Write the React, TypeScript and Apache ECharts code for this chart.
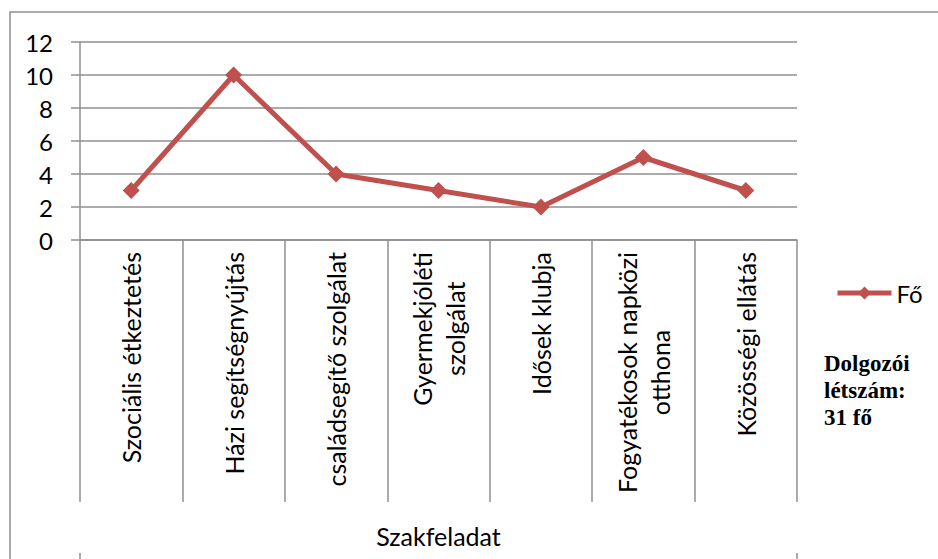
import React, { useEffect, useRef } from "react";
import * as echarts from "echarts";

const categories = [
  "Szociális étkeztetés",
  "Házi segítségnyújtás",
  "családsegítő szolgálat",
  "Gyermekjóléti\nszolgálat",
  "Idősek klubja",
  "Fogyatékosok napközi\notthona",
  "Közösségi ellátás",
];
const values = [3, 10, 4, 3, 2, 5, 3];
const seriesName = "Fő";
const groupLabel = "Szakfeladat";
const noteLines = ["Dolgozói", "létszám:", "31 fő"];

const FONT = "Lato, 'Open Sans', sans-serif";
const GRAY = "#8f8f8f";
const RED = "#C0504D";

export default function App() {
  const ref = useRef<HTMLDivElement>(null);
  useEffect(() => {
    const chart = echarts.init(ref.current!, null, { renderer: "svg" });
    chart.setOption({
      animation: false,
      backgroundColor: "#ffffff",
      textStyle: { fontFamily: FONT, color: "#000" },
      graphic: [
        {
          type: "rect",
          shape: { x: 10, y: 12, width: 940, height: 560 },
          style: { fill: "none", stroke: GRAY, lineWidth: 1.5 },
          silent: true,
        },
        {
          type: "text",
          left: 824,
          top: 350,
          style: {
            text: noteLines.join("\n"),
            font: "bold 23px 'Liberation Serif', 'Times New Roman', serif",
            fill: "#000",
            lineHeight: 27,
          },
        },
      ],
      legend: {
        data: [seriesName],
        left: 830,
        top: 276,
        itemWidth: 54,
        itemHeight: 16,
        itemGap: 5,
        lineStyle: { width: 5 },
        textStyle: { fontSize: 24, fontFamily: FONT, color: "#000" },
      },
      grid: [
        { left: 80, top: 42, width: 717, height: 198 },
        { left: 80, top: 240, width: 717, height: 313 },
      ],
      xAxis: [
        {
          type: "category",
          gridIndex: 0,
          data: categories,
          boundaryGap: true,
          axisLine: { show: true, lineStyle: { color: GRAY, width: 1.5 } },
          axisTick: {
            show: true,
            interval: 0,
            length: 262,
            lineStyle: { color: GRAY, width: 1.5 },
          },
          axisLabel: {
            interval: 0,
            rotate: 90,
            margin: 12,
            formatter: (v: string) =>
              v
                .split("\n")
                .map((l) => `{c|${l}}`)
                .join("\n"),
            rich: {
              c: {
                align: "center",
                fontSize: 25,
                fontFamily: FONT,
                color: "#000",
                lineHeight: 33,
              },
            },
          },
          name: groupLabel,
          nameLocation: "middle",
          nameGap: 283,
          nameTextStyle: { fontSize: 25, fontFamily: FONT, color: "#000" },
        },
        {
          type: "category",
          gridIndex: 1,
          position: "top",
          data: [""],
          boundaryGap: true,
          axisLine: { show: false },
          axisTick: {
            show: true,
            inside: true,
            length: 313,
            lineStyle: { color: GRAY, width: 1.5 },
          },
          axisLabel: { show: false },
        },
      ],
      yAxis: [
        {
          type: "value",
          gridIndex: 0,
          min: 0,
          max: 12,
          interval: 2,
          axisLine: { show: true, lineStyle: { color: GRAY, width: 1.5 } },
          axisTick: { show: true, length: 9, lineStyle: { color: GRAY, width: 1.5 } },
          axisLabel: { margin: 27, fontSize: 24, fontFamily: FONT, color: "#000" },
          splitLine: { show: true, lineStyle: { color: GRAY, width: 1.5 } },
        },
        {
          type: "value",
          gridIndex: 1,
          show: false,
          splitLine: { show: false },
        },
      ],
      series: [
        {
          name: seriesName,
          type: "line",
          xAxisIndex: 0,
          yAxisIndex: 0,
          data: values,
          symbol: "diamond",
          symbolSize: 17,
          lineStyle: { color: RED, width: 5 },
          itemStyle: { color: RED },
        },
      ],
    });
    return () => chart.dispose();
  }, []);
  return (
    <div
      ref={ref}
      style={{ position: "absolute", left: 0, top: 0, width: 938, height: 559 }}
    />
  );
}
